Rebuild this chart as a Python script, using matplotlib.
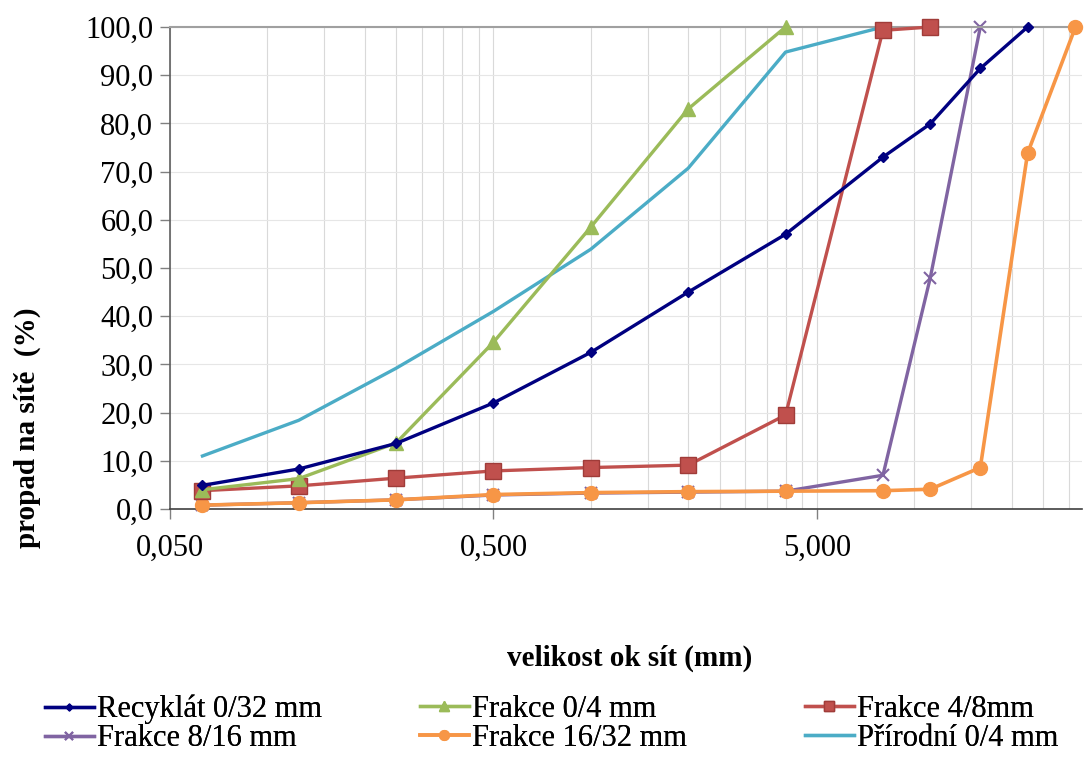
import matplotlib
matplotlib.use("Agg")
import matplotlib.pyplot as plt
from matplotlib.ticker import FixedLocator, FuncFormatter, NullFormatter

plt.rcParams['font.family'] = ['Liberation Serif', 'DejaVu Serif']

# sieve sizes (mm)
sizes = [0.063, 0.125, 0.25, 0.5, 1, 2, 4, 8, 11.2, 16, 22.4, 31.5]

# passing (%)
recyklat = [4.9, 8.3, 13.6, 22.0, 32.5, 45.0, 57.0, 73.0, 79.9, 91.4, 100.0]
frakce_04 = [4.0, 6.3, 13.7, 34.6, 58.5, 83.0, 100.0]
frakce_48 = [3.8, 4.8, 6.4, 7.9, 8.6, 9.1, 19.5, 99.3, 100.0]
frakce_816 = [0.8, 1.3, 1.9, 2.9, 3.3, 3.5, 3.7, 7.0, 47.9, 100.0]
frakce_1632 = [0.8, 1.3, 1.9, 3.0, 3.4, 3.6, 3.7, 3.8, 4.1, 8.6, 73.8, 100.0]
prirodni = [11.0, 18.4, 29.2, 41.0, 53.9, 70.7, 94.8, 100.0]

y_ticks = list(range(0, 101, 10))
x_major = [0.05, 0.5, 5.0]
x_minor = [b * k for b in (0.05, 0.5, 5.0) for k in range(2, 10)]

fig = plt.figure(figsize=(10.86, 7.58), dpi=100)
ax = fig.add_axes([170 / 1086, 249 / 758, 912 / 1086, 482 / 758])

h1, = ax.plot(sizes[:len(recyklat)], recyklat, color='#000080', lw=2.4,
              marker='D', ms=5, label='Recyklát 0/32 mm', zorder=6)
h2, = ax.plot(sizes[:len(frakce_04)], frakce_04, color='#9BBB59', lw=2.4,
              marker='^', ms=10, label='Frakce 0/4 mm', zorder=5)
h3, = ax.plot(sizes[:len(frakce_48)], frakce_48, color='#C0504D', lw=2.4,
              marker='s', ms=11, mec='#A03C39', label='Frakce 4/8mm', zorder=4)
h4, = ax.plot(sizes[:len(frakce_816)], frakce_816, color='#8064A2', lw=2.4,
              marker='x', ms=9, mew=1.5, label='Frakce 8/16 mm', zorder=2)
h5, = ax.plot(sizes[:len(frakce_1632)], frakce_1632, color='#F79646', lw=2.6,
              marker='o', ms=10, label='Frakce 16/32 mm', zorder=3)
h6, = ax.plot(sizes[:len(prirodni)], prirodni, color='#4BACC6', lw=2.4,
              label='Přírodní 0/4 mm', zorder=3)
for h in (h1, h2, h3, h4, h5, h6):
    h.set_clip_on(False)

ax.set_xscale('log')
ax.set_xlim(0.05, 33)
ax.set_ylim(0, 100)
ax.xaxis.set_major_locator(FixedLocator(x_major))
ax.xaxis.set_minor_locator(FixedLocator(x_minor))
ax.xaxis.set_minor_formatter(NullFormatter())
ax.xaxis.set_major_formatter(FuncFormatter(lambda v, p: f"{v:.3f}".replace('.', ',')))
ax.set_yticks(y_ticks)
ax.yaxis.set_major_formatter(FuncFormatter(lambda v, p: f"{v:.1f}".replace('.', ',')))

ax.grid(True, which='both', axis='x', color='#d9d9d9', lw=0.8)
ax.grid(True, which='major', axis='y', color='#e6e6e6', lw=0.8)
ax.set_axisbelow(True)
ax.tick_params(axis='both', which='major', labelsize=22, length=7, width=1,
               color='#808080', direction='out')
ax.tick_params(axis='x', which='minor', length=0)
ax.tick_params(axis='x', pad=11)
ax.tick_params(axis='y', pad=5)

ax.spines['right'].set_visible(False)
ax.spines['top'].set_color('#a0a0a0')
ax.spines['top'].set_linewidth(1.5)
ax.spines['left'].set_color('#606060')
ax.spines['bottom'].set_color('#404040')
ax.spines['left'].set_linewidth(1.2)
ax.spines['bottom'].set_linewidth(1.2)

fig.text(630 / 1086, 1 - 658 / 758, 'velikost ok sít (mm)', fontsize=21,
         fontweight='bold', ha='center', va='center')
fig.text(27 / 1086, 1 - 428 / 758, 'propad na sítě  (%)', fontsize=21,
         fontweight='bold', ha='center', va='center', rotation=90)

# one legend per column so the columns sit where they do in the original
columns = [([h1, h4], 45), ([h2, h5], 420), ([h3, h6], 805)]
for hs, xpos in columns:
    leg = fig.legend(handles=hs, labels=[h.get_label() for h in hs],
                     loc='upper left', bbox_to_anchor=(xpos / 1086, 1 - 695 / 758),
                     frameon=False, fontsize=22, handlelength=1.6,
                     handletextpad=0.1, labelspacing=0.0, borderpad=0,
                     borderaxespad=0, markerscale=0.7)
    fig.add_artist(leg)

fig.savefig('out.png', dpi=100)
